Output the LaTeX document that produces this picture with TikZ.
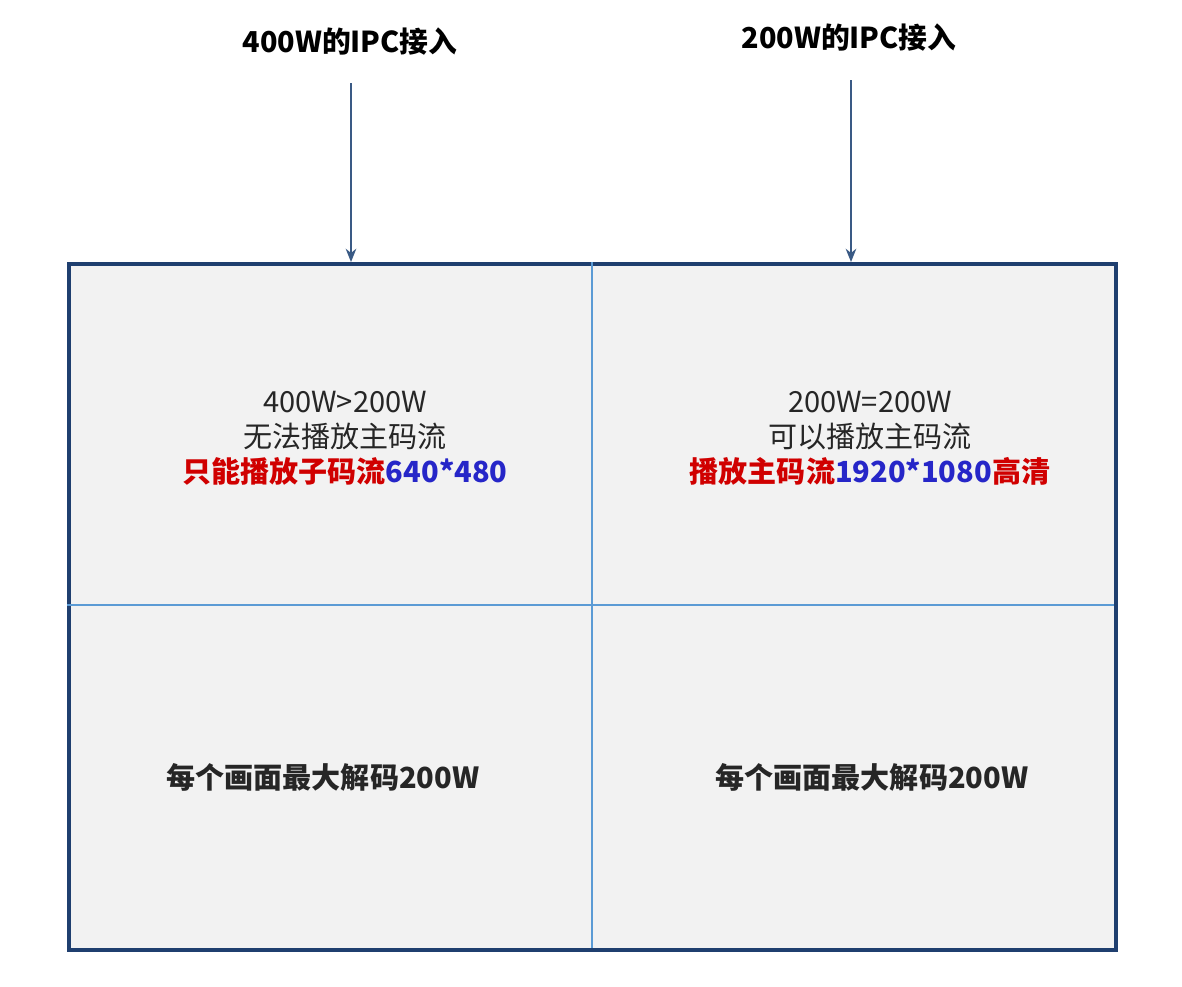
\documentclass[tikz,border=0pt]{standalone}
\usepackage{fontspec}
\usetikzlibrary{arrows.meta}
\setmainfont{Noto Sans CJK SC}
\definecolor{frame}{HTML}{1F3F6F}
\definecolor{arr}{HTML}{3A5A85}
\definecolor{grid}{HTML}{5B9BD5}
\definecolor{cellbg}{HTML}{F2F2F2}
\definecolor{tred}{HTML}{D00000}
\definecolor{tblue}{HTML}{2626C8}
\begin{document}
\begin{tikzpicture}[x=0.75pt,y=-0.75pt,
  lbl/.style={font=\fontsize{21.8}{26.2}\selectfont, text=black!85, align=center, inner sep=0pt},
  ttl/.style={font=\fontsize{21.6}{26}\selectfont\bfseries, inner sep=0pt},
  arrow/.style={draw=arr, line width=1.2pt, -{Stealth[length=10pt,width=8pt]}}]
\useasboundingbox (0,0) rectangle (1182,986);
\fill[white] (0,0) rectangle (1182,986);
\node[draw=frame, line width=3.2pt, fill=cellbg, minimum width=1047*0.75pt, minimum height=686*0.75pt, anchor=north west, inner sep=0pt] (box) at (67,262) {};
\coordinate (vt) at (592,262); \coordinate (vb) at (592,948);
\coordinate (hl) at (67,605); \coordinate (hr) at (1114,605);
\draw[grid, line width=1pt] (vt) -- (vb);
\draw[grid, line width=1pt] (hl) -- (hr);
\node[ttl] (t1) at (350,42) {400W的IPC接入};
\node[ttl] (t2) at (849,38) {200W的IPC接入};
\coordinate (a1) at (351,262); \coordinate (a2) at (851,262);
\draw[arrow] (351,83) -- (a1);
\draw[arrow] (851,80) -- (a2);
\node[lbl] (c1) at (345,438) {400W>200W\\无法播放主码流\\{\bfseries\color{tred}只能播放子码流\color{tblue}640*480}};
\node[lbl] (c2) at (870,438) {200W=200W\\可以播放主码流\\{\bfseries\color{tred}播放主码流\color{tblue}1920*1080\color{tred}高清}};
\node[lbl,font=\fontsize{21.8}{26.2}\selectfont\bfseries] (c3) at (323,777) {每个画面最大解码200W};
\node[lbl,font=\fontsize{21.8}{26.2}\selectfont\bfseries] (c4) at (872,777) {每个画面最大解码200W};
\end{tikzpicture}
\end{document}
